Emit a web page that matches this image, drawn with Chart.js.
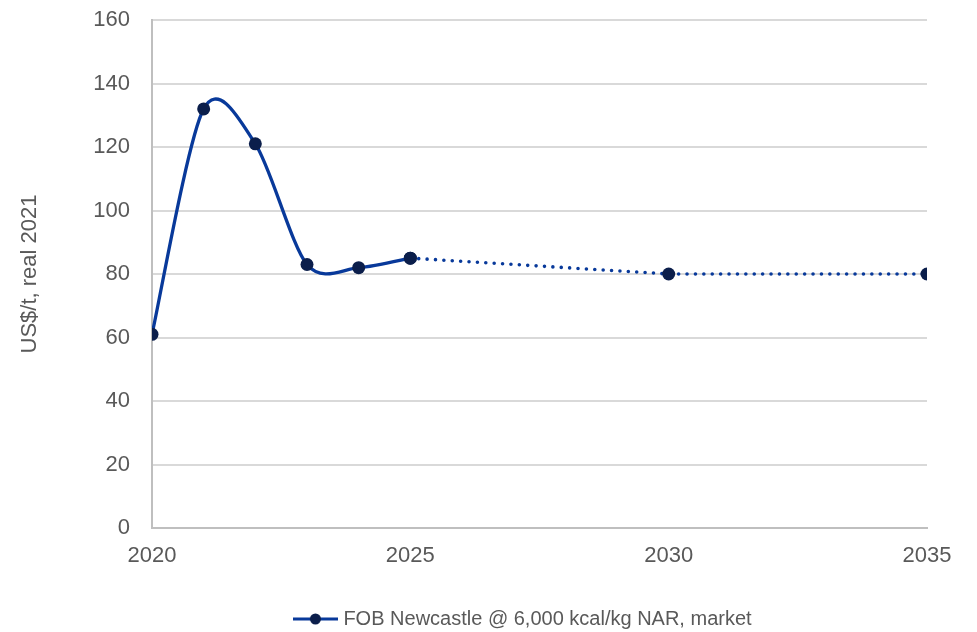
<!DOCTYPE html>
<html>
<head>
<meta charset="utf-8">
<title>FOB Newcastle coal price outlook</title>
<script src="https://cdn.jsdelivr.net/npm/chart.js@4/dist/chart.umd.min.js"></script>
<style>
  html, body { margin: 0; padding: 0; background: #ffffff; }
  #wrap { width: 977px; height: 632px; }
</style>
</head>
<body>
<div id="wrap"><canvas id="chart" width="977" height="632"></canvas></div>
<script>
// Annual price points (US$/t, real 2021)
const years = [2020, 2021, 2022, 2023, 2024, 2025, 2030, 2035];
const prices = [61, 132, 121, 83, 82, 85, 80, 80];
// From this index onward the series is a projection (dotted)
const projectionStart = 5;
const xTickYears = [2020, 2025, 2030, 2035];
const seriesName = 'FOB Newcastle @ 6,000 kcal/kg NAR, market';
const yTitle = 'US$/t, real 2021';

const LINE = '#08399a';
const MARKER = '#0b1e4b';
const TEXT = '#595959';
const FONT = "'Liberation Sans', Arial, sans-serif";

const toPoints = (from, to) => years.slice(from, to).map((x, i) => ({ x, y: prices[from + i] }));

// Legend swatch: short line with a marker in the middle
const swatch = document.createElement('canvas');
swatch.width = 45; swatch.height = 14;
(() => {
  const c = swatch.getContext('2d');
  c.strokeStyle = LINE; c.lineWidth = 3;
  c.beginPath(); c.moveTo(0, 7); c.lineTo(45, 7); c.stroke();
  c.fillStyle = MARKER;
  c.beginPath(); c.arc(22.5, 7, 5.5, 0, Math.PI * 2); c.fill();
})();

// Nudge the legend row: centre it under the plot and drop it to the bottom edge
const legendShift = {
  id: 'legendShift',
  afterLayout(chart) {
    const lg = chart.legend;
    if (!lg) return;
    lg.left = 122; lg.right = 927;
    lg.top += 7; lg.bottom += 7;
  }
};

// Catmull-Rom style smoothing (uniform tangents) for the historical line
const SMOOTH = 0.15;
const uniformSpline = {
  id: 'uniformSpline',
  beforeDatasetDraw(chart, args) {
    if (args.index !== 0) return;
    const line = args.meta.dataset;
    const pts = args.meta.data;
    line.updateControlPoints(chart.chartArea, 'x');
    pts.forEach((p, i) => {
      const a = pts[Math.max(i - 1, 0)];
      const b = pts[Math.min(i + 1, pts.length - 1)];
      const dx = (b.x - a.x) * SMOOTH, dy = (b.y - a.y) * SMOOTH;
      p.cp1x = p.x - dx; p.cp1y = p.y - dy;
      p.cp2x = p.x + dx; p.cp2y = p.y + dy;
    });
  }
};

new Chart(document.getElementById('chart'), {
  type: 'line',
  data: {
    datasets: [
      {
        label: seriesName,
        data: toPoints(0, projectionStart + 1),
        borderColor: LINE,
        borderWidth: 3.3,
        tension: 0.4,
        pointRadius: 6.5,
        pointBackgroundColor: MARKER,
        pointBorderColor: MARKER,
        pointBorderWidth: 0
      },
      {
        label: seriesName + ' (projection)',
        data: toPoints(projectionStart),
        borderColor: LINE,
        borderWidth: 3.6,
        borderDash: [0, 8.4],
        borderCapStyle: 'round',
        tension: 0,
        pointRadius: 6.5,
        pointBackgroundColor: MARKER,
        pointBorderColor: MARKER,
        pointBorderWidth: 0
      }
    ]
  },
  options: {
    responsive: false,
    animation: false,
    layout: { autoPadding: false, padding: { top: 20, right: 50, bottom: 0, left: 0 } },
    plugins: {
      tooltip: { enabled: false },
      legend: {
        position: 'bottom',
        labels: {
          font: { family: FONT, size: 20 },
          color: TEXT,
          padding: 3,
          usePointStyle: true,
          pointStyle: swatch,
          pointStyleWidth: 36,
          filter: item => item.datasetIndex === 0
        }
      }
    },
    scales: {
      x: {
        type: 'linear',
        min: years[0],
        max: years[years.length - 1],
        afterBuildTicks: scale => { scale.ticks = xTickYears.map(v => ({ value: v })); },
        afterFit: scale => { scale.height = 71; },
        grid: { display: false, drawTicks: false },
        border: { color: '#bfbfbf', width: 2 },
        ticks: {
          font: { family: FONT, size: 22 },
          color: TEXT,
          padding: 15,
          maxRotation: 0,
          callback: v => String(v)
        }
      },
      y: {
        min: 0,
        max: 160,
        afterFit: scale => { scale.width = 152; scale.paddingTop = 0; },
        grid: {
          drawTicks: false,
          color: ctx => (ctx.tick && ctx.tick.value === 0) ? 'rgba(0,0,0,0)' : '#d9d9d9',
          lineWidth: 2
        },
        border: { color: '#bfbfbf', width: 2 },
        ticks: {
          stepSize: 20,
          font: { family: FONT, size: 22 },
          color: TEXT,
          padding: 22
        },
        title: {
          display: true,
          text: yTitle,
          font: { family: FONT, size: 22 },
          color: TEXT,
          padding: { top: 17, bottom: 0 }
        }
      }
    }
  },
  plugins: [legendShift, uniformSpline]
});
</script>
</body>
</html>
